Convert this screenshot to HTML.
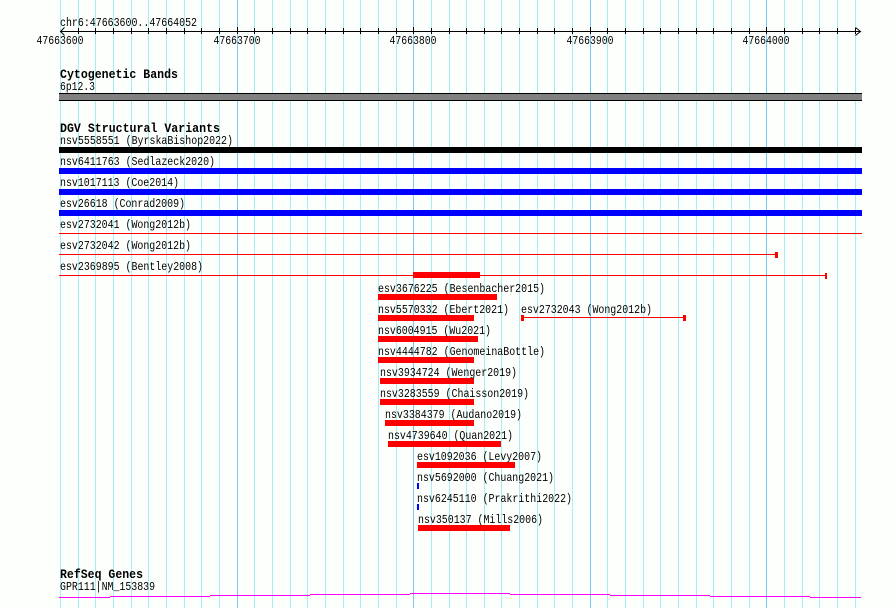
<!DOCTYPE html>
<html><head><meta charset="utf-8"><style>
html,body{margin:0;padding:0;background:#fcfffc;}
svg{display:block;}
text{font-family:"Liberation Mono",monospace;fill:#000;}
.n{font-size:12px;}
.b{font-size:13px;font-weight:bold;}
</style></head><body>
<svg width="890" height="608" viewBox="0 0 890 608" xmlns="http://www.w3.org/2000/svg">
<rect x="0" y="0" width="890" height="608" fill="#fcfffc"/>
<g shape-rendering="crispEdges" fill="#a6eef2">
<rect x="60" y="0" width="1" height="608"/><rect x="78" y="0" width="1" height="608"/><rect x="95" y="0" width="1" height="608"/><rect x="113" y="0" width="1" height="608"/><rect x="131" y="0" width="1" height="608"/><rect x="148" y="0" width="1" height="608"/><rect x="166" y="0" width="1" height="608"/><rect x="184" y="0" width="1" height="608"/><rect x="201" y="0" width="1" height="608"/><rect x="219" y="0" width="1" height="608"/>
<rect x="254" y="0" width="1" height="608"/><rect x="272" y="0" width="1" height="608"/><rect x="290" y="0" width="1" height="608"/><rect x="307" y="0" width="1" height="608"/><rect x="325" y="0" width="1" height="608"/><rect x="343" y="0" width="1" height="608"/><rect x="360" y="0" width="1" height="608"/><rect x="378" y="0" width="1" height="608"/><rect x="396" y="0" width="1" height="608"/>
<rect x="431" y="0" width="1" height="608"/><rect x="449" y="0" width="1" height="608"/><rect x="466" y="0" width="1" height="608"/><rect x="484" y="0" width="1" height="608"/><rect x="501" y="0" width="1" height="608"/><rect x="519" y="0" width="1" height="608"/><rect x="537" y="0" width="1" height="608"/><rect x="554" y="0" width="1" height="608"/><rect x="572" y="0" width="1" height="608"/>
<rect x="607" y="0" width="1" height="608"/><rect x="625" y="0" width="1" height="608"/><rect x="643" y="0" width="1" height="608"/><rect x="660" y="0" width="1" height="608"/><rect x="678" y="0" width="1" height="608"/><rect x="696" y="0" width="1" height="608"/><rect x="713" y="0" width="1" height="608"/><rect x="731" y="0" width="1" height="608"/><rect x="749" y="0" width="1" height="608"/>
<rect x="784" y="0" width="1" height="608"/><rect x="802" y="0" width="1" height="608"/><rect x="819" y="0" width="1" height="608"/><rect x="837" y="0" width="1" height="608"/><rect x="855" y="0" width="1" height="608"/>
</g>
<g shape-rendering="crispEdges" fill="#78c8f0">
<rect x="237" y="0" width="1" height="608"/><rect x="413" y="0" width="1" height="608"/><rect x="590" y="0" width="1" height="608"/><rect x="766" y="0" width="1" height="608"/>
</g>

<!-- ruler -->
<text class="n" x="60" y="26" textLength="137" lengthAdjust="spacingAndGlyphs">chr6:47663600..47664052</text>
<g shape-rendering="crispEdges" fill="#000">
<rect x="60" y="31" width="800" height="1"/>
<rect x="78" y="28" width="1" height="6"/><rect x="95" y="28" width="1" height="6"/><rect x="113" y="28" width="1" height="6"/><rect x="131" y="28" width="1" height="6"/><rect x="148" y="28" width="1" height="6"/><rect x="166" y="28" width="1" height="6"/><rect x="184" y="28" width="1" height="6"/><rect x="201" y="28" width="1" height="6"/><rect x="219" y="28" width="1" height="6"/>
<rect x="237" y="27" width="1" height="7"/>
<rect x="254" y="28" width="1" height="6"/><rect x="272" y="28" width="1" height="6"/><rect x="290" y="28" width="1" height="6"/><rect x="307" y="28" width="1" height="6"/><rect x="325" y="28" width="1" height="6"/><rect x="343" y="28" width="1" height="6"/><rect x="360" y="28" width="1" height="6"/><rect x="378" y="28" width="1" height="6"/><rect x="396" y="28" width="1" height="6"/>
<rect x="413" y="27" width="1" height="7"/>
<rect x="431" y="28" width="1" height="6"/><rect x="449" y="28" width="1" height="6"/><rect x="466" y="28" width="1" height="6"/><rect x="484" y="28" width="1" height="6"/><rect x="501" y="28" width="1" height="6"/><rect x="519" y="28" width="1" height="6"/><rect x="537" y="28" width="1" height="6"/><rect x="554" y="28" width="1" height="6"/><rect x="572" y="28" width="1" height="6"/>
<rect x="590" y="27" width="1" height="7"/>
<rect x="607" y="28" width="1" height="6"/><rect x="625" y="28" width="1" height="6"/><rect x="643" y="28" width="1" height="6"/><rect x="660" y="28" width="1" height="6"/><rect x="678" y="28" width="1" height="6"/><rect x="696" y="28" width="1" height="6"/><rect x="713" y="28" width="1" height="6"/><rect x="731" y="28" width="1" height="6"/><rect x="749" y="28" width="1" height="6"/>
<rect x="766" y="27" width="1" height="7"/>
<rect x="784" y="28" width="1" height="6"/><rect x="802" y="28" width="1" height="6"/><rect x="819" y="28" width="1" height="6"/><rect x="837" y="28" width="1" height="6"/><rect x="855" y="28" width="1" height="6"/>
</g>
<polyline points="64.5,27.5 60.5,31.5 64.5,35.5" fill="none" stroke="#000" stroke-width="1"/>
<polyline points="855.5,27.5 860.5,31.5 855.5,35.5" fill="none" stroke="#000" stroke-width="1"/>
<g text-anchor="middle">
<text class="n" x="60" y="44" textLength="47" lengthAdjust="spacingAndGlyphs">47663600</text>
<text class="n" x="237" y="44" textLength="47" lengthAdjust="spacingAndGlyphs">47663700</text>
<text class="n" x="413" y="44" textLength="47" lengthAdjust="spacingAndGlyphs">47663800</text>
<text class="n" x="590" y="44" textLength="47" lengthAdjust="spacingAndGlyphs">47663900</text>
<text class="n" x="766" y="44" textLength="47" lengthAdjust="spacingAndGlyphs">47664000</text>
</g>

<!-- cytogenetic -->
<text class="b" x="60" y="78" textLength="118" lengthAdjust="spacingAndGlyphs">Cytogenetic Bands</text>
<text class="n" x="60" y="90" textLength="35" lengthAdjust="spacingAndGlyphs">6p12.3</text>
<g shape-rendering="crispEdges">
<rect x="59" y="93" width="803" height="8" fill="#000"/>
<rect x="59" y="94" width="803" height="6" fill="#808080"/>
</g>

<!-- DGV -->
<text class="b" x="60" y="132" textLength="160" lengthAdjust="spacingAndGlyphs">DGV Structural Variants</text>
<text class="n" x="60" y="144" textLength="173" lengthAdjust="spacingAndGlyphs">nsv5558551 (ByrskaBishop2022)</text>
<text class="n" x="60" y="165" textLength="155" lengthAdjust="spacingAndGlyphs">nsv6411763 (Sedlazeck2020)</text>
<text class="n" x="60" y="186" textLength="119" lengthAdjust="spacingAndGlyphs">nsv1017113 (Coe2014)</text>
<text class="n" x="60" y="207" textLength="125" lengthAdjust="spacingAndGlyphs">esv26618 (Conrad2009)</text>
<text class="n" x="60" y="228" textLength="131" lengthAdjust="spacingAndGlyphs">esv2732041 (Wong2012b)</text>
<text class="n" x="60" y="249" textLength="131" lengthAdjust="spacingAndGlyphs">esv2732042 (Wong2012b)</text>
<text class="n" x="60" y="270" textLength="143" lengthAdjust="spacingAndGlyphs">esv2369895 (Bentley2008)</text>

<g shape-rendering="crispEdges">
<rect x="59" y="147" width="803" height="6" fill="#000"/>
<rect x="59" y="168" width="803" height="6" fill="#0000ff"/>
<rect x="59" y="189" width="803" height="6" fill="#0000ff"/>
<rect x="59" y="210" width="803" height="6" fill="#0000ff"/>
<rect x="59" y="233" width="803" height="1" fill="#ff0000"/>
<rect x="59" y="254" width="716" height="1" fill="#ff0000"/>
<rect x="775" y="252" width="3" height="6" fill="#ff0000"/>
<rect x="59" y="275" width="766" height="1" fill="#ff0000"/>
<rect x="825" y="273" width="2" height="6" fill="#ff0000"/>
<rect x="413" y="272" width="67" height="6" fill="#ff0000"/>

<rect x="378" y="294" width="119" height="6" fill="#ff0000"/>
<rect x="378" y="315" width="96" height="6" fill="#ff0000"/>
<rect x="521" y="317" width="165" height="1" fill="#ff0000"/>
<rect x="521" y="315" width="3" height="6" fill="#ff0000"/>
<rect x="683" y="315" width="3" height="6" fill="#ff0000"/>
<rect x="378" y="336" width="100" height="6" fill="#ff0000"/>
<rect x="378" y="357" width="96" height="6" fill="#ff0000"/>
<rect x="380" y="378" width="94" height="6" fill="#ff0000"/>
<rect x="380" y="399" width="94" height="6" fill="#ff0000"/>
<rect x="385" y="420" width="89" height="6" fill="#ff0000"/>
<rect x="388" y="441" width="113" height="6" fill="#ff0000"/>
<rect x="417" y="462" width="98" height="6" fill="#ff0000"/>
<rect x="417" y="483" width="2" height="6" fill="#0000ff"/>
<rect x="417" y="504" width="2" height="6" fill="#0000ff"/>
<rect x="418" y="525" width="92" height="6" fill="#ff0000"/>
</g>

<text class="n" x="378" y="292" textLength="167" lengthAdjust="spacingAndGlyphs">esv3676225 (Besenbacher2015)</text>
<text class="n" x="378" y="313" textLength="131" lengthAdjust="spacingAndGlyphs">nsv5570332 (Ebert2021)</text>
<text class="n" x="521" y="313" textLength="131" lengthAdjust="spacingAndGlyphs">esv2732043 (Wong2012b)</text>
<text class="n" x="378" y="334" textLength="113" lengthAdjust="spacingAndGlyphs">nsv6004915 (Wu2021)</text>
<text class="n" x="378" y="355" textLength="167" lengthAdjust="spacingAndGlyphs">nsv4444782 (GenomeinaBottle)</text>
<text class="n" x="380" y="376" textLength="137" lengthAdjust="spacingAndGlyphs">nsv3934724 (Wenger2019)</text>
<text class="n" x="380" y="397" textLength="149" lengthAdjust="spacingAndGlyphs">nsv3283559 (Chaisson2019)</text>
<text class="n" x="385" y="418" textLength="137" lengthAdjust="spacingAndGlyphs">nsv3384379 (Audano2019)</text>
<text class="n" x="388" y="439" textLength="125" lengthAdjust="spacingAndGlyphs">nsv4739640 (Quan2021)</text>
<text class="n" x="417" y="460" textLength="125" lengthAdjust="spacingAndGlyphs">esv1092036 (Levy2007)</text>
<text class="n" x="417" y="481" textLength="137" lengthAdjust="spacingAndGlyphs">nsv5692000 (Chuang2021)</text>
<text class="n" x="417" y="502" textLength="155" lengthAdjust="spacingAndGlyphs">nsv6245110 (Prakrithi2022)</text>
<text class="n" x="418" y="523" textLength="125" lengthAdjust="spacingAndGlyphs">nsv350137 (Mills2006)</text>

<!-- RefSeq -->
<text class="b" x="60" y="578" textLength="83" lengthAdjust="spacingAndGlyphs">RefSeq Genes</text>
<text class="n" x="60" y="590" textLength="95" lengthAdjust="spacingAndGlyphs">GPR111|NM_153839</text>
<g shape-rendering="crispEdges" fill="#ff00ff">
<rect x="59" y="597" width="51" height="1"/>
<rect x="110" y="596" width="100" height="1"/>
<rect x="210" y="595" width="100" height="1"/>
<rect x="310" y="594" width="100" height="1"/>
<rect x="410" y="593" width="100" height="1"/>
<rect x="510" y="594" width="100" height="1"/>
<rect x="610" y="595" width="100" height="1"/>
<rect x="710" y="596" width="100" height="1"/>
<rect x="810" y="597" width="51" height="1"/>
</g>
</svg>
</body></html>
